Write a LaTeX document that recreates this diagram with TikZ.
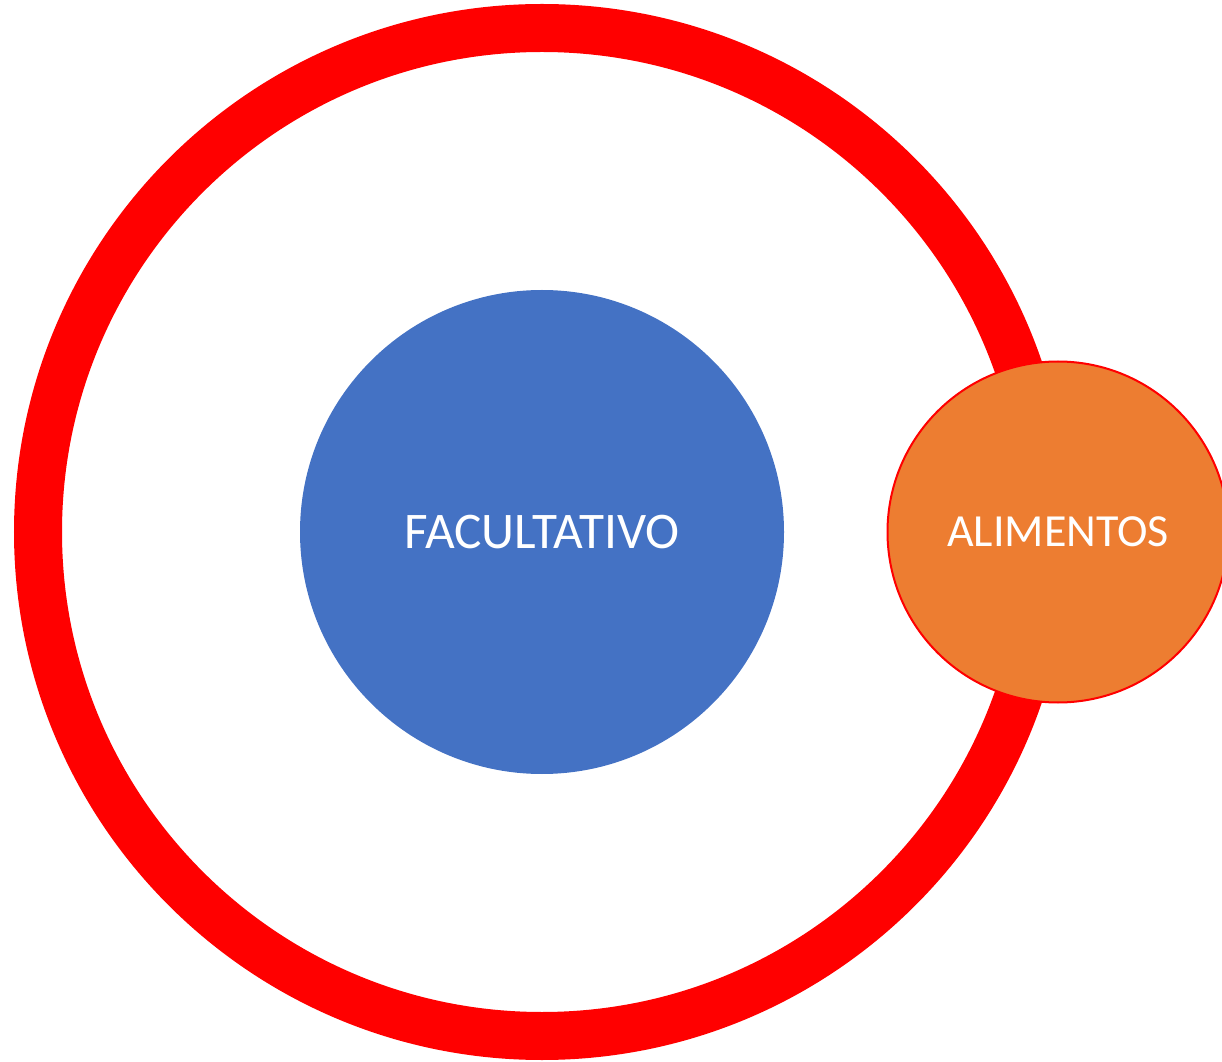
\documentclass[tikz,border=0pt]{standalone}
\usepackage{fontspec}
\setmainfont{Carlito}
\definecolor{ringred}{HTML}{FF0000}
\definecolor{facblue}{HTML}{4472C4}
\definecolor{alimorange}{HTML}{ED7D31}
\tikzset{
	label text/.style={text=white, font=\fontsize{#1}{46}\selectfont},
}
\begin{document}
\begin{tikzpicture}[x=0.75pt, y=-0.75pt]

	\useasboundingbox (0, 0) rectangle (1222, 1062);

	\node[shape=circle, draw=ringred, line width=36pt, minimum size=756pt, inner sep=0pt] (ring) at (542, 532) {};
	\node[shape=circle, fill=facblue, minimum size=363pt, inner sep=0pt, label text=38.5] (facultativo) at (542, 532) {FACULTATIVO};
	\node[shape=circle, fill=alimorange, draw=ringred, line width=1.5pt, minimum size=255.75pt, inner sep=0pt, label text=34.5] (alimentos) at (1058, 532) {ALIMENTOS};

\end{tikzpicture}
\end{document}
